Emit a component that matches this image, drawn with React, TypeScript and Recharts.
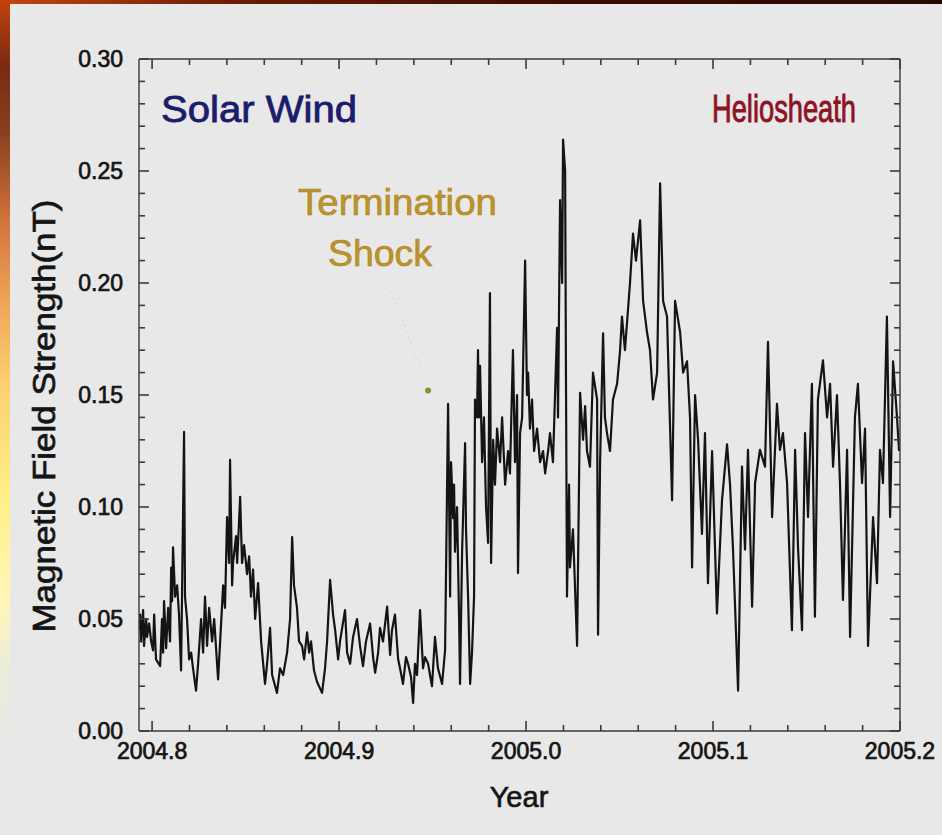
import React from 'react';
import { LineChart, Line, XAxis, YAxis, ReferenceLine, ReferenceDot } from 'recharts';

// [year, field strength nT]
const solarWind: [number, number][] = [
  [2004.793, 0.045], [2004.7936, 0.052], [2004.7941, 0.04], [2004.7952, 0.054], [2004.7957, 0.038],
  [2004.7968, 0.05], [2004.7973, 0.042], [2004.7984, 0.048], [2004.7995, 0.04], [2004.8005, 0.036],
  [2004.8011, 0.052], [2004.8021, 0.032], [2004.8043, 0.029], [2004.8053, 0.05], [2004.8059, 0.035],
  [2004.8064, 0.058], [2004.8075, 0.037], [2004.8086, 0.055], [2004.8096, 0.04], [2004.8102, 0.073],
  [2004.8107, 0.058], [2004.8112, 0.082], [2004.8123, 0.06], [2004.8134, 0.065], [2004.8144, 0.052],
  [2004.8155, 0.027], [2004.816, 0.06], [2004.8171, 0.1335], [2004.8176, 0.06], [2004.8187, 0.05],
  [2004.8198, 0.032], [2004.8209, 0.035], [2004.8219, 0.028], [2004.8235, 0.018], [2004.8246, 0.03],
  [2004.8262, 0.05], [2004.8273, 0.035], [2004.8283, 0.06], [2004.8294, 0.038], [2004.8305, 0.055],
  [2004.8321, 0.04], [2004.8332, 0.05], [2004.8353, 0.023], [2004.8364, 0.04], [2004.838, 0.065],
  [2004.839, 0.055], [2004.8401, 0.0955], [2004.8412, 0.075], [2004.8417, 0.121], [2004.8428, 0.065],
  [2004.8433, 0.075], [2004.8449, 0.087], [2004.8455, 0.075], [2004.8471, 0.1045], [2004.8481, 0.075],
  [2004.8492, 0.083], [2004.8508, 0.07], [2004.8519, 0.078], [2004.8529, 0.06], [2004.854, 0.072],
  [2004.8551, 0.05], [2004.8567, 0.066], [2004.8583, 0.04], [2004.8604, 0.021], [2004.8615, 0.03],
  [2004.8631, 0.046], [2004.8642, 0.025], [2004.8668, 0.017], [2004.8684, 0.028], [2004.8701, 0.025],
  [2004.8722, 0.035], [2004.8738, 0.05], [2004.8749, 0.0866], [2004.8759, 0.065], [2004.8775, 0.055],
  [2004.8786, 0.04], [2004.8802, 0.038], [2004.8813, 0.032], [2004.8829, 0.044], [2004.884, 0.035],
  [2004.885, 0.04], [2004.8866, 0.027], [2004.8882, 0.022], [2004.8909, 0.017], [2004.8925, 0.028],
  [2004.8936, 0.04], [2004.8952, 0.0675], [2004.8968, 0.052], [2004.8979, 0.045], [2004.8995, 0.032],
  [2004.9005, 0.04], [2004.9032, 0.054], [2004.9043, 0.035], [2004.9059, 0.03], [2004.9075, 0.042],
  [2004.9096, 0.05], [2004.9112, 0.038], [2004.9128, 0.029], [2004.9144, 0.04], [2004.9166, 0.048],
  [2004.9182, 0.033], [2004.9193, 0.026], [2004.9209, 0.035], [2004.9219, 0.046], [2004.9235, 0.04],
  [2004.9257, 0.0555], [2004.9273, 0.034], [2004.9283, 0.045], [2004.9299, 0.052], [2004.9316, 0.032],
  [2004.9326, 0.028], [2004.9342, 0.021], [2004.9358, 0.033], [2004.9369, 0.03], [2004.9385, 0.024],
  [2004.9396, 0.0125], [2004.9406, 0.03], [2004.9417, 0.025], [2004.9433, 0.054], [2004.9449, 0.028],
  [2004.946, 0.033], [2004.9476, 0.03], [2004.9497, 0.02], [2004.9513, 0.042], [2004.9529, 0.028],
  [2004.9551, 0.021], [2004.9567, 0.036],
];

const shockCrossing: [number, number][] = [
  [2004.9583, 0.146], [2004.9594, 0.06], [2004.9599, 0.12], [2004.961, 0.095], [2004.9615, 0.11],
  [2004.962, 0.08], [2004.9631, 0.1], [2004.9642, 0.05], [2004.9647, 0.021], [2004.9658, 0.08],
  [2004.9674, 0.1285], [2004.9679, 0.09], [2004.969, 0.06], [2004.9701, 0.021], [2004.9711, 0.035],
  [2004.9722, 0.06], [2004.9727, 0.148], [2004.9738, 0.14], [2004.9743, 0.17], [2004.9749, 0.14],
  [2004.9754, 0.163], [2004.9765, 0.12], [2004.9775, 0.14], [2004.9786, 0.1], [2004.9797, 0.084],
  [2004.9807, 0.1955], [2004.9813, 0.075], [2004.9824, 0.13], [2004.9834, 0.11], [2004.9845, 0.135],
  [2004.9861, 0.12], [2004.9872, 0.14], [2004.9888, 0.11], [2004.9904, 0.125], [2004.9914, 0.115],
  [2004.993, 0.17], [2004.9941, 0.12], [2004.9952, 0.15], [2004.9957, 0.0705], [2004.9968, 0.133],
  [2004.9979, 0.14], [2004.9995, 0.21],
];

const heliosheath: [number, number][] = [
  [2005.0005, 0.15], [2005.0011, 0.16], [2005.0021, 0.135], [2005.0032, 0.148], [2005.0043, 0.125],
  [2005.0059, 0.135], [2005.0075, 0.12], [2005.0091, 0.125], [2005.0102, 0.115], [2005.0118, 0.125],
  [2005.0128, 0.133], [2005.0144, 0.12], [2005.0155, 0.15], [2005.0166, 0.18], [2005.0171, 0.14],
  [2005.0182, 0.237], [2005.0193, 0.2], [2005.0198, 0.264], [2005.0209, 0.25], [2005.0214, 0.15],
  [2005.0219, 0.06], [2005.023, 0.11], [2005.0235, 0.073], [2005.0251, 0.09], [2005.0273, 0.038],
  [2005.0289, 0.151], [2005.0305, 0.13], [2005.0316, 0.145], [2005.0326, 0.125], [2005.0342, 0.118],
  [2005.0358, 0.16], [2005.038, 0.148], [2005.0385, 0.043], [2005.0396, 0.12], [2005.0412, 0.1775],
  [2005.0422, 0.14], [2005.0433, 0.133], [2005.0449, 0.125], [2005.0465, 0.148], [2005.0487, 0.155],
  [2005.0503, 0.17], [2005.0513, 0.185], [2005.0529, 0.17], [2005.0556, 0.2], [2005.0572, 0.222],
  [2005.0588, 0.21], [2005.061, 0.228], [2005.0626, 0.192], [2005.0647, 0.178], [2005.0663, 0.17],
  [2005.0679, 0.148], [2005.0701, 0.16], [2005.0717, 0.2445], [2005.0733, 0.192], [2005.0754, 0.185],
  [2005.0781, 0.103], [2005.0797, 0.192], [2005.0824, 0.178], [2005.084, 0.16], [2005.0861, 0.165],
  [2005.0877, 0.14], [2005.0888, 0.073], [2005.0904, 0.15], [2005.092, 0.13], [2005.0941, 0.088],
  [2005.0957, 0.133], [2005.0973, 0.066], [2005.0995, 0.125], [2005.1021, 0.0525], [2005.1048, 0.103],
  [2005.1075, 0.128], [2005.1091, 0.11], [2005.1107, 0.081], [2005.1134, 0.018], [2005.1155, 0.118],
  [2005.1171, 0.081], [2005.1187, 0.1255], [2005.1209, 0.0555], [2005.1225, 0.1107], [2005.1251, 0.1255],
  [2005.1278, 0.118], [2005.1294, 0.1737], [2005.1316, 0.0955], [2005.1342, 0.146], [2005.1358, 0.1255],
  [2005.1374, 0.133], [2005.1396, 0.1107], [2005.1422, 0.045], [2005.1439, 0.1255], [2005.1455, 0.081],
  [2005.1476, 0.045], [2005.1492, 0.133], [2005.1508, 0.0955], [2005.1529, 0.155], [2005.1545, 0.051],
  [2005.1561, 0.148], [2005.1588, 0.1655], [2005.161, 0.14], [2005.1626, 0.155], [2005.1642, 0.118],
  [2005.1663, 0.15], [2005.1679, 0.1107], [2005.1695, 0.0585], [2005.1717, 0.1255], [2005.1733, 0.042],
  [2005.1759, 0.14], [2005.1775, 0.155], [2005.1797, 0.1107], [2005.1813, 0.135], [2005.1829, 0.038],
  [2005.1856, 0.0955], [2005.1877, 0.066], [2005.1893, 0.1255], [2005.1909, 0.1107], [2005.193, 0.185],
  [2005.1947, 0.0955], [2005.1963, 0.165], [2005.1984, 0.14], [2005.1995, 0.125],
];

const yearTicks = [
  2004.8, 2004.82, 2004.84, 2004.86, 2004.88, 2004.9, 2004.92, 2004.94, 2004.96, 2004.98, 2005.0,
  2005.02, 2005.04, 2005.06, 2005.08, 2005.1, 2005.12, 2005.14, 2005.16, 2005.18, 2005.2,
];

const fieldTicks = [
  0, 0.01, 0.02, 0.03, 0.04, 0.05, 0.06, 0.07, 0.08, 0.09, 0.1, 0.11, 0.12, 0.13, 0.14, 0.15,
  0.16, 0.17, 0.18, 0.19, 0.2, 0.21, 0.22, 0.23, 0.24, 0.25, 0.26, 0.27, 0.28, 0.29, 0.3,
];

const data = [...solarWind, ...shockCrossing, ...heliosheath].map(([year, b]) => ({ year, b }));

const FONT = '"Liberation Sans", Arial, Helvetica, sans-serif';
const AXIS = '#3a3a3a';
const INK = '#141414';

const isMajorX = (v: number) => Math.abs(v * 10 - Math.round(v * 10)) < 1e-6;
const isMajorY = (v: number) => Math.abs(v * 20 - Math.round(v * 20)) < 1e-6;

const labelStyle = { fontFamily: FONT, fontSize: 23, fill: INK, stroke: INK, strokeWidth: 0.7 };

// ticks point inward, like the IDL original
const BottomTick = (props: any) => {
  const { x, y, payload } = props;
  const major = isMajorX(payload.value);
  return (
    <g>
      <line x1={x} x2={x} y1={y} y2={y - (major ? 10 : 6)} stroke={AXIS} strokeWidth={1.6} />
      {major && (
        <text x={x} y={y + 28} textAnchor="middle" {...labelStyle}>
          {payload.value.toFixed(1)}
        </text>
      )}
    </g>
  );
};

const TopTick = (props: any) => {
  const { x, y, payload } = props;
  const major = isMajorX(payload.value);
  return <line x1={x} x2={x} y1={y} y2={y + (major ? 10 : 6)} stroke={AXIS} strokeWidth={1.6} />;
};

const LeftTick = (props: any) => {
  const { x, y, payload } = props;
  const major = isMajorY(payload.value);
  return (
    <g>
      <line x1={x} x2={x + (major ? 10 : 6)} y1={y} y2={y} stroke={AXIS} strokeWidth={1.6} />
      {major && (
        <text x={x - 16} y={y + 8} textAnchor="end" {...labelStyle}>
          {payload.value.toFixed(2)}
        </text>
      )}
    </g>
  );
};

const RightTick = (props: any) => {
  const { x, y, payload } = props;
  const major = isMajorY(payload.value);
  return <line x1={x} x2={x - (major ? 10 : 6)} y1={y} y2={y} stroke={AXIS} strokeWidth={1.6} />;
};

export default function App() {
  return (
    <div
      style={{
        position: 'absolute',
        left: 0,
        top: 0,
        width: 942,
        height: 835,
        overflow: 'hidden',
        background: 'linear-gradient(90deg, #c4470f 0%, #6a1c06 25%, #3c0c02 60%, #2a0800 100%)',
      }}
    >
      <div
        style={{
          position: 'absolute',
          left: 0,
          top: 0,
          width: 10,
          height: 835,
          background:
            'linear-gradient(180deg, #c2430e 0%, #7a2a12 8%, #8a4020 16%, #d0703a 26%, #f0a458 36%, #fcd070 46%, #fff08a 60%, #fff6b8 72%, #ececdc 80%, #e8e8e8 90%)',
        }}
      />
      <div style={{ position: 'absolute', left: 10, top: 4, right: 0, bottom: 0, background: '#e8e8e8' }} />

      <div style={{ position: 'absolute', left: 0, top: 0 }}>
        <LineChart width={942} height={835} data={data} margin={{ top: 58, right: 41, bottom: 74, left: 79 }}>
          <XAxis
            dataKey="year"
            type="number"
            domain={[2004.793, 2005.2]}
            allowDataOverflow
            ticks={yearTicks}
            interval={0}
            height={30}
            tickSize={0}
            tickMargin={0}
            tickLine={false}
            axisLine={{ stroke: AXIS, strokeWidth: 1.4 }}
            tick={<BottomTick />}
          />
          <XAxis
            xAxisId="top"
            orientation="top"
            dataKey="year"
            type="number"
            domain={[2004.793, 2005.2]}
            allowDataOverflow
            ticks={yearTicks}
            interval={0}
            height={1}
            tickSize={0}
            tickMargin={0}
            tickLine={false}
            axisLine={{ stroke: AXIS, strokeWidth: 1.4 }}
            tick={<TopTick />}
          />
          <YAxis
            type="number"
            domain={[0, 0.3]}
            allowDataOverflow
            ticks={fieldTicks}
            interval={0}
            width={60}
            tickSize={0}
            tickMargin={0}
            tickLine={false}
            axisLine={{ stroke: AXIS, strokeWidth: 1.4 }}
            tick={<LeftTick />}
          />
          <YAxis
            yAxisId="right"
            orientation="right"
            type="number"
            domain={[0, 0.3]}
            allowDataOverflow
            ticks={fieldTicks}
            interval={0}
            width={1}
            tickSize={0}
            tickMargin={0}
            tickLine={false}
            axisLine={{ stroke: AXIS, strokeWidth: 1.4 }}
            tick={<RightTick />}
          />
          <ReferenceLine
            segment={[
              { x: 2004.928, y: 0.196 },
              { x: 2004.946, y: 0.157 },
            ]}
            stroke="#c2c2c2"
            strokeDasharray="1 5"
          />
          <ReferenceDot x={2004.9476} y={0.152} r={3} fill="#8e8e2c" stroke="none" />
          <Line
            dataKey="b"
            type="linear"
            stroke={INK}
            strokeWidth={2.2}
            strokeLinejoin="round"
            dot={false}
            isAnimationActive={false}
          />
        </LineChart>
      </div>

      <svg
        width={942}
        height={835}
        style={{ position: 'absolute', left: 0, top: 0, pointerEvents: 'none' }}
        fontFamily={FONT}
      >
        <text x={161} y={122} fontSize={36} fill="#1c1c6c" stroke="#1c1c6c" strokeWidth={0.8} textLength={196} lengthAdjust="spacingAndGlyphs">
          Solar Wind
        </text>
        <text x={712} y={122} fontSize={38} fill="#8e1224" stroke="#8e1224" strokeWidth={0.9} textLength={144} lengthAdjust="spacingAndGlyphs">
          Heliosheath
        </text>
        <text x={298} y={215} fontSize={36} fill="#bc942a" stroke="#a88420" strokeWidth={0.6} textLength={199} lengthAdjust="spacingAndGlyphs">
          Termination
        </text>
        <text x={328} y={266} fontSize={36} fill="#bc942a" stroke="#a88420" strokeWidth={0.6} textLength={104} lengthAdjust="spacingAndGlyphs">
          Shock
        </text>
        <text
          transform="rotate(-90)"
          x={-416}
          y={55}
          textAnchor="middle"
          fontSize={32}
          fill={INK}
          stroke={INK}
          strokeWidth={0.7}
          textLength={433}
          lengthAdjust="spacingAndGlyphs"
        >
          Magnetic Field Strength(nT)
        </text>
        <text x={519} y={807} textAnchor="middle" fontSize={29} fill={INK} stroke={INK} strokeWidth={0.6}>
          Year
        </text>
      </svg>
    </div>
  );
}
